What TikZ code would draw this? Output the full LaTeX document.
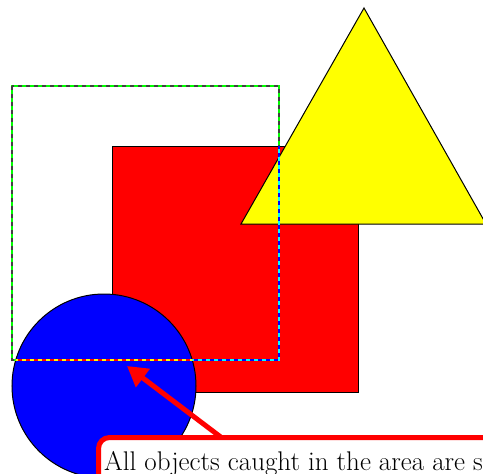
\documentclass[tikz,border=0pt]{standalone}
\usepackage{fontspec}
\usetikzlibrary{arrows.meta}
\definecolor{pureRed}{RGB}{255,0,0}
\definecolor{pureYellow}{RGB}{255,255,0}
\definecolor{pureBlue}{RGB}{0,0,255}
\definecolor{pureGreen}{RGB}{0,255,0}
\definecolor{pureCyan}{RGB}{0,255,255}
\definecolor{dashGray}{RGB}{64,64,64}
\begin{document}
\begin{tikzpicture}[x=1pt,y=-1pt,
  shapeline/.style={draw=black,line width=1pt},
  selbase/.style={line width=1.6pt},
  seldash/.style={line width=1.6pt,dash pattern=on 4pt off 4pt},
  callout/.style={draw=pureRed,line width=5pt,fill=white,rounded corners=11pt},
  pointer/.style={draw=pureRed,line width=5pt,-{Triangle[length=20pt,width=22pt]}}]
\useasboundingbox (0,0) rectangle (483,474);
\clip (0,0) rectangle (483,474);
% red square
\path[shapeline,fill=pureRed] (112,146) rectangle (358,392);
% yellow triangle
\path[shapeline,fill=pureYellow] (364,8) -- (486,224) -- (241,224) -- cycle;
% blue circle
\path[shapeline,fill=pureBlue] (104,386) circle[radius=92];
% selection rectangle (XOR look)
\coordinate (selA) at (12,86);
\coordinate (selB) at (279,360);
\draw[selbase,pureGreen] (selA) rectangle (selB);
\draw[seldash,dashGray] (selA) rectangle (selB);
\begin{scope}
  \clip (112,146) rectangle (358,392);
  \draw[selbase,pureCyan] (selA) rectangle (selB);
  \draw[seldash,pureBlue] (selA) rectangle (selB);
\end{scope}
\begin{scope}
  \clip (364,8) -- (486,224) -- (241,224) -- cycle;
  \draw[selbase,pureCyan] (selA) rectangle (selB);
  \draw[seldash,pureBlue] (selA) rectangle (selB);
\end{scope}
\begin{scope}
  \clip (104,386) circle[radius=92];
  \draw[selbase,pureYellow] (selA) rectangle (selB);
  \draw[seldash,pureRed] (selA) rectangle (selB);
\end{scope}
% callout
\coordinate (tip) at (127,366);
\coordinate (from) at (222,438);
\draw[pointer] (from) -- (tip);
\path[callout] (98.5,437.5) rectangle (560,560);
\node[anchor=base west,inner sep=0pt,font=\fontsize{27}{32}\selectfont] (txt) at (104,470) {\spaceskip=8pt All objects caught in the area are s};
\end{tikzpicture}
\end{document}
